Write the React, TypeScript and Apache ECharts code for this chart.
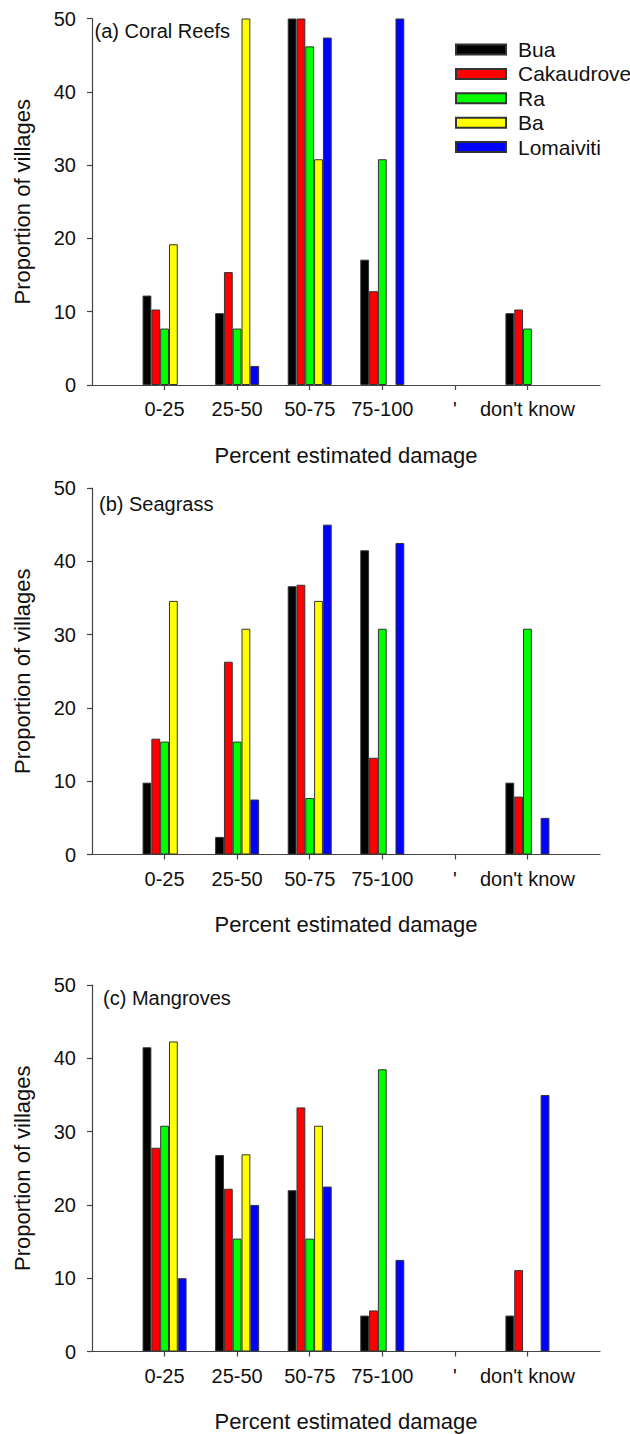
import React, { useEffect, useRef } from "react";
import * as echarts from "echarts";

// Categories on the x axis (one blank slot at each end gives the axis padding)
const categories = ["0-25", "25-50", "50-75", "75-100", "'", "don't know"];
const seriesNames = ["Bua", "Cakaudrove", "Ra", "Ba", "Lomaiviti"];
const seriesColors = ["#000000", "#ff0000", "#00ff00", "#ffff00", "#0000ff"];
const yMin = 0;
const yMax = 50;
const yStep = 10;

// (a) Coral Reefs
const coralBua = [12.2, 9.8, 50, 17.1, null, 9.8];
const coralCakaudrove = [10.3, 15.4, 50, 12.8, null, 10.3];
const coralRa = [7.7, 7.7, 46.2, 30.8, null, 7.7];
const coralBa = [19.2, 50, 30.8, null, null, null];
const coralLomaiviti = [null, 2.6, 47.4, 50, null, null];

// (b) Seagrass
const seagrassBua = [9.8, 2.4, 36.6, 41.5, null, 9.8];
const seagrassCakaudrove = [15.8, 26.3, 36.8, 13.2, null, 7.9];
const seagrassRa = [15.4, 15.4, 7.7, 30.8, null, 30.8];
const seagrassBa = [34.6, 30.8, 34.6, null, null, null];
const seagrassLomaiviti = [null, 7.5, 45, 42.5, null, 5];

// (c) Mangroves
const mangroveBua = [41.5, 26.8, 22.0, 4.9, null, 4.9];
const mangroveCakaudrove = [27.8, 22.2, 33.3, 5.6, null, 11.1];
const mangroveRa = [30.8, 15.4, 15.4, 38.5, null, null];
const mangroveBa = [42.3, 26.9, 30.8, null, null, null];
const mangroveLomaiviti = [10, 20, 22.5, 12.5, null, 35];

const panelLabels = ["(a) Coral Reefs", "(b) Seagrass", "(c) Mangroves"];
const panelData = [
  [coralBua, coralCakaudrove, coralRa, coralBa, coralLomaiviti],
  [seagrassBua, seagrassCakaudrove, seagrassRa, seagrassBa, seagrassLomaiviti],
  [mangroveBua, mangroveCakaudrove, mangroveRa, mangroveBa, mangroveLomaiviti],
];

const xAxisTitle = "Percent estimated damage";
const yAxisTitle = "Proportion of villages";

// layout
const FONT = "'Liberation Sans', Arial, sans-serif";
const gridLeft = 92;
const gridWidth = 508;
const gridHeight = 366.5;
const gridTops = [18.5, 488, 985];
const labelPos = [
  { x: 94.5, y: 32 },
  { x: 99, y: 505 },
  { x: 103, y: 999 },
];
const AXIS_COLOR = "#444";
const TEXT_COLOR = "#111";

export default function App() {
  const ref = useRef<HTMLDivElement>(null);

  useEffect(() => {
    if (!ref.current) return;
    const chart = echarts.init(ref.current, undefined, { renderer: "svg" });
    const xCats = ["", ...categories, ""];
    const showIdx = (i: number) => i >= 1 && i <= categories.length;

    const grids = gridTops.map((top) => ({
      left: gridLeft,
      top,
      width: gridWidth,
      height: gridHeight,
      containLabel: false,
    }));

    const xAxes = gridTops.map((_, gi) => ({
      type: "category",
      gridIndex: gi,
      data: xCats,
      boundaryGap: false,
      axisLine: { show: true, lineStyle: { color: AXIS_COLOR, width: 1.2 } },
      axisTick: {
        show: true,
        length: 5,
        interval: (i: number) => showIdx(i),
        lineStyle: { color: AXIS_COLOR, width: 1.2 },
      },
      axisLabel: {
        interval: (i: number) => showIdx(i),
        margin: 14,
        fontSize: 20,
        fontFamily: FONT,
        color: TEXT_COLOR,
      },
      splitLine: { show: false },
      name: xAxisTitle,
      nameLocation: "middle",
      nameGap: 59,
      nameTextStyle: { fontSize: 22, fontFamily: FONT, color: TEXT_COLOR },
    }));

    const yAxes = gridTops.map((_, gi) => ({
      type: "value",
      gridIndex: gi,
      min: yMin,
      max: yMax,
      interval: yStep,
      axisLine: { show: true, lineStyle: { color: AXIS_COLOR, width: 1.2 } },
      axisTick: { show: true, length: 5, lineStyle: { color: AXIS_COLOR, width: 1.2 } },
      axisLabel: { margin: 16, fontSize: 20, fontFamily: FONT, color: TEXT_COLOR },
      splitLine: { show: false },
      name: yAxisTitle,
      nameLocation: "middle",
      nameGap: 59,
      nameTextStyle: { fontSize: 22, fontFamily: FONT, color: TEXT_COLOR },
    }));

    const series: any[] = [];
    panelData.forEach((groups, gi) => {
      groups.forEach((vals, si) => {
        series.push({
          type: "bar",
          name: seriesNames[si],
          xAxisIndex: gi,
          yAxisIndex: gi,
          data: [null, ...vals, null],
          barWidth: 8.8,
          barGap: "0%",
          itemStyle: {
            color: seriesColors[si],
            borderColor: "#333",
            borderWidth: 1,
          },
          emphasis: { disabled: true },
        });
      });
    });

    chart.setOption({
      animation: false,
      backgroundColor: "#ffffff",
      grid: grids,
      xAxis: xAxes,
      yAxis: yAxes,
      legend: {
        orient: "vertical",
        left: 450,
        top: 34,
        itemWidth: 50,
        itemHeight: 10,
        itemGap: 3.4,
        icon: "rect",
        data: seriesNames,
        selectedMode: false,
        textStyle: {
          fontSize: 21,
          fontFamily: FONT,
          color: TEXT_COLOR,
          padding: [0, 0, 0, 7],
        },
      },
      graphic: panelLabels.map((t, i) => ({
        type: "text",
        left: labelPos[i].x,
        top: labelPos[i].y - 11,
        style: { text: t, fontSize: 20, fontFamily: FONT, fill: TEXT_COLOR },
      })),
      series,
    });

    return () => chart.dispose();
  }, []);

  return (
    <div
      ref={ref}
      style={{ position: "fixed", left: 0, top: 0, width: 630, height: 1434, background: "#fff" }}
    />
  );
}
